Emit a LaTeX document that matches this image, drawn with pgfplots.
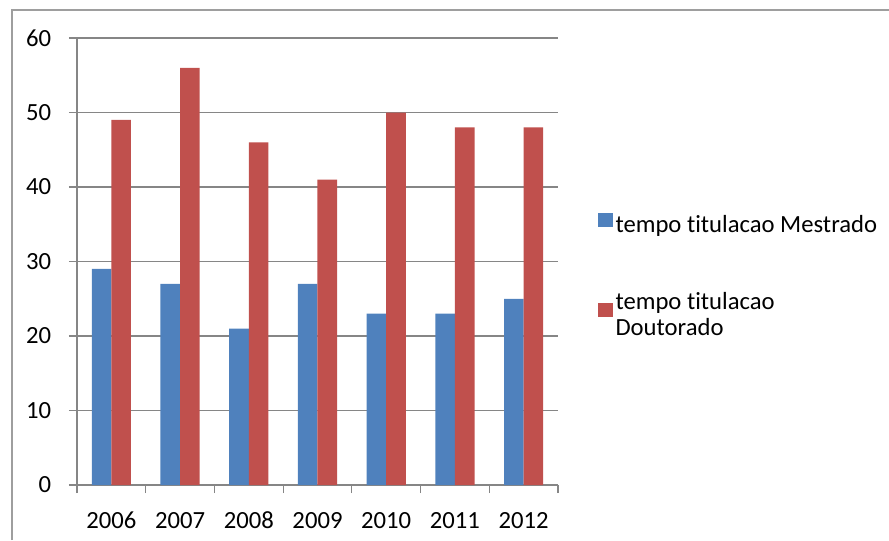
\documentclass[border=0pt]{standalone}
\usepackage{fontspec}
\setmainfont{Carlito}[Ligatures=NoCommon, Numbers=Lining]
\usepackage{pgfplots}
\pgfplotsset{compat=1.18}
\definecolor{cblue}{HTML}{4F81BD}
\definecolor{cred}{HTML}{C0504D}
\definecolor{cgrid}{HTML}{868686}
\begin{document}
\fontsize{18.5}{20}\selectfont
\begin{tikzpicture}
\path[use as bounding box] (0pt,0pt) rectangle (666.75pt,405pt);
\draw[cgrid!80, line width=0.9pt] (9pt,0pt) -- (9pt,397.5pt) -- (666.75pt,397.5pt);
\begin{axis}[
  at={(57.75pt,41.25pt)}, anchor=south west,
  scale only axis,
  width=360.75pt, height=335.25pt,
  xmin=-0.5, xmax=6.5, ymin=0, ymax=60,
  ybar=0pt, bar width=14.7pt,
  axis x line*=bottom, axis y line*=left,
  axis line style={cgrid, line width=0.8pt, -},
  xtick={0,...,6},
  xticklabels={2006,2007,2008,2009,2010,2011,2012},
  minor xtick={-0.5,0.5,...,6.5},
  ytick={0,10,...,60},
  ymajorgrids, grid style={cgrid, line width=0.8pt},
  tick align=outside,
  major x tick style={draw=none},
  minor x tick style={cgrid, line width=0.8pt},
  y tick style={cgrid, line width=0.8pt},
  major tick length=6pt, minor tick length=6pt,
  /pgf/number format/assume math mode=true,
  tick label style={font=\fontsize{18.5}{20}\selectfont, text=black},
  yticklabel style={xshift=-7pt},
  xticklabel style={yshift=-8pt, text height=12pt, text depth=0pt},
  legend style={draw=none, fill=none, at={(1.083,0.61)}, anchor=north west,
    inner sep=0pt,
    font=\fontsize{18.5}{20}\selectfont, row sep=38pt,
    cells={align=left, anchor=west}},
  legend cell align=left,
  legend image code/.code={\fill[#1] (0pt,-1pt) rectangle (11pt,9.5pt);},
]
\addplot[fill=cblue, draw=none] coordinates {(0,29) (1,27) (2,21) (3,27) (4,23) (5,23) (6,25)};
\addplot[fill=cred, draw=none] coordinates {(0,49) (1,56) (2,46) (3,41) (4,50) (5,48) (6,48)};
\legend{tempo titulacao Mestrado, tempo titulacao\\Doutorado}
\end{axis}
\end{tikzpicture}
\end{document}
